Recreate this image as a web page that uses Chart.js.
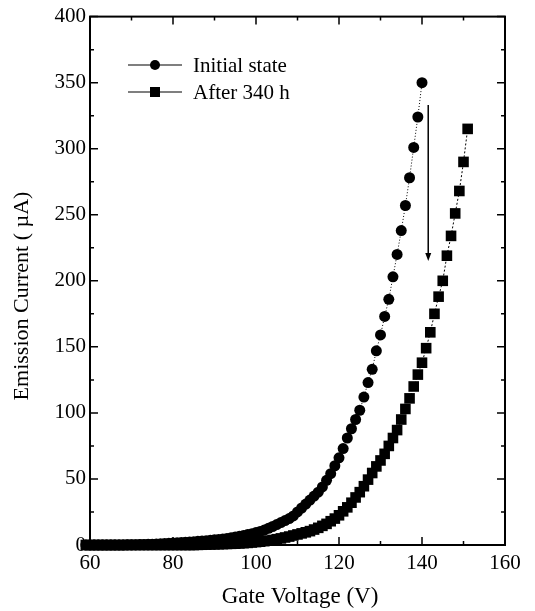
<!DOCTYPE html>
<html>
<head>
<meta charset="utf-8">
<script src="https://cdn.jsdelivr.net/npm/chart.js@4.4.1/dist/chart.umd.min.js"></script>
<style>
  body { margin: 0; background: #fff; }
  #wrap { width: 535px; height: 611px; }
</style>
</head>
<body>
<div id="wrap"><canvas id="chart" width="535" height="611"></canvas></div>
<script>
// gate voltage (V) and emission current (uA)
const initialV = [58, 59, 60, 61, 62, 63, 64, 65, 66, 67, 68, 69, 70, 71, 72, 73, 74, 75, 76, 77, 78, 79,
  80, 81, 82, 83, 84, 85, 86, 87, 88, 89, 90, 91, 92, 93, 94, 95, 96, 97, 98, 99,
  100, 101, 102, 103, 104, 105, 106, 107, 108, 109, 110, 111, 112, 113, 114, 115, 116, 117, 118, 119,
  120, 121, 122, 123, 124, 125, 126, 127, 128, 129, 130, 131, 132, 133, 134, 135, 136, 137, 138, 139, 140];
const initialI = [0, 0, 0, 0, 0, 0, 0, 0, 0, 0, 0, 0.1, 0.1, 0.2, 0.3, 0.4, 0.5, 0.6, 0.8, 0.9, 1.1, 1.3,
  1.5, 1.7, 1.9, 2.1, 2.3, 2.5, 2.8, 3.0, 3.3, 3.6, 3.9, 4.2, 4.6, 5.0, 5.5, 6.0, 6.6, 7.2, 7.9, 8.6,
  9.4, 10.3, 11.3, 12.6, 14, 15.5, 17, 18.5, 20, 22, 25, 28, 31, 34, 37, 40, 44, 49, 54, 60,
  66, 73, 81, 88, 95, 102, 112, 123, 133, 147, 159, 173, 186, 203, 220, 238, 257, 278, 301, 324, 350];

const agedV = [58, 59, 60, 61, 62, 63, 64, 65, 66, 67, 68, 69, 70, 71, 72, 73, 74, 75, 76, 77, 78, 79,
  80, 81, 82, 83, 84, 85, 86, 87, 88, 89, 90, 91, 92, 93, 94, 95, 96, 97, 98, 99,
  100, 101, 102, 103, 104, 105, 106, 107, 108, 109, 110, 111, 112, 113, 114, 115, 116, 117, 118, 119,
  120, 121, 122, 123, 124, 125, 126, 127, 128, 129, 130, 131, 132, 133, 134, 135, 136, 137, 138, 139,
  140, 141, 142, 143, 144, 145, 146, 147, 148, 149, 150, 151];
const agedI = [0, 0, 0, 0, 0, 0, 0, 0, 0, 0, 0, 0, 0, 0, 0, 0, 0, 0, 0, 0, 0, 0,
  0, 0, 0, 0, 0, 0, 0.1, 0.2, 0.3, 0.4, 0.5, 0.6, 0.7, 0.8, 0.9, 1.0, 1.2, 1.4, 1.6, 1.9,
  2.2, 2.5, 2.9, 3.3, 3.8, 4.4, 5.0, 5.7, 6.4, 7.2, 8.0, 8.8, 9.6, 10.5, 11.7, 13, 14.5, 16, 18, 20,
  22.5, 25.5, 28.5, 32, 36, 40, 44.5, 49.5, 54.5, 59.5, 64, 69, 75, 81, 87, 95, 103, 111, 120, 129,
  138, 149, 161, 175, 188, 200, 219, 234, 251, 268, 290, 315];

const seriesNames = ["Initial state", "After 340 h"];
const xTicks = [60, 80, 100, 120, 140, 160];
const yTicks = [0, 50, 100, 150, 200, 250, 300, 350, 400];
const xTitle = "Gate Voltage (V)";
const yTitle = "Emission Current ( \u00b5A)";

const serif = "'Liberation Serif', 'Times New Roman', serif";

function toPoints(xs, ys) {
  return xs.map((v, i) => ({ x: v, y: ys[i] }));
}

// box with inward ticks on all four sides, arrow and axis titles
const framePlugin = {
  id: "frame",
  afterDatasetsDraw(chart) {
    const { ctx, chartArea: a, scales } = chart;
    ctx.save();
    ctx.strokeStyle = "#000";
    ctx.fillStyle = "#000";
    ctx.lineWidth = 2;
    ctx.strokeRect(a.left, a.top, a.right - a.left, a.bottom - a.top);
    ctx.lineWidth = 1.5;
    ctx.beginPath();
    for (let v = 60; v <= 160; v += 10) {
      const px = scales.x.getPixelForValue(v);
      const len = v % 20 === 0 ? 8 : 4;
      ctx.moveTo(px, a.bottom); ctx.lineTo(px, a.bottom - len);
      ctx.moveTo(px, a.top); ctx.lineTo(px, a.top + len);
    }
    for (let v = 0; v <= 400; v += 25) {
      const py = scales.y.getPixelForValue(v);
      const len = v % 50 === 0 ? 8 : 4;
      ctx.moveTo(a.left, py); ctx.lineTo(a.left + len, py);
      ctx.moveTo(a.right, py); ctx.lineTo(a.right - len, py);
    }
    ctx.stroke();

    // arrow showing the shift
    const ax = scales.x.getPixelForValue(141.5);
    const y0 = scales.y.getPixelForValue(333);
    const y1 = scales.y.getPixelForValue(215);
    ctx.beginPath();
    ctx.moveTo(ax, y0);
    ctx.lineTo(ax, y1 - 6);
    ctx.stroke();
    ctx.beginPath();
    ctx.moveTo(ax - 3, y1 - 8);
    ctx.lineTo(ax + 3, y1 - 8);
    ctx.lineTo(ax, y1);
    ctx.closePath();
    ctx.fill();

    // titles
    ctx.textAlign = "center";
    ctx.textBaseline = "middle";
    ctx.font = "23px " + serif;
    ctx.fillText(xTitle, 300, 597);
    ctx.translate(22, 296);
    ctx.rotate(-Math.PI / 2);
    ctx.font = "22px " + serif;
    ctx.fillText(yTitle, 0, 0);
    ctx.restore();
  }
};

// legend drawn inside the plot, upper left
const legendPlugin = {
  id: "innerLegend",
  afterDraw(chart) {
    const ctx = chart.ctx;
    const rows = [65, 92];
    ctx.save();
    ctx.font = "21px " + serif;
    ctx.textBaseline = "middle";
    chart.data.datasets.forEach((ds, i) => {
      const y = rows[i];
      ctx.strokeStyle = "#000";
      ctx.lineWidth = 1.2;
      ctx.beginPath();
      ctx.moveTo(128, y);
      ctx.lineTo(182, y);
      ctx.stroke();
      ctx.fillStyle = "#000";
      if (ds.pointStyle === "rect") {
        ctx.fillRect(150, y - 5, 10, 10);
      } else {
        ctx.beginPath();
        ctx.arc(155, y, 5, 0, Math.PI * 2);
        ctx.fill();
      }
      ctx.fillText(ds.label, 193, y + 1);
    });
    ctx.restore();
  }
};

new Chart(document.getElementById("chart"), {
  type: "line",
  data: {
    datasets: [
      {
        label: seriesNames[0],
        data: toPoints(initialV, initialI),
        borderColor: "#000",
        backgroundColor: "#000",
        borderWidth: 1,
        borderDash: [1, 2],
        pointStyle: "circle",
        pointRadius: 5.5,
        pointBorderWidth: 0,
        clip: false
      },
      {
        label: seriesNames[1],
        data: toPoints(agedV, agedI),
        borderColor: "#000",
        backgroundColor: "#000",
        borderWidth: 1,
        borderDash: [2, 2],
        pointStyle: "rect",
        pointRadius: 7.5,
        pointBorderWidth: 0,
        clip: false
      }
    ]
  },
  options: {
    responsive: false,
    animation: false,
    layout: { padding: { left: 0, top: 13, right: 30, bottom: 0 } },
    plugins: { legend: { display: false }, tooltip: { enabled: false } },
    scales: {
      x: {
        type: "linear",
        min: 60,
        max: 160,
        grid: { display: false, drawTicks: false },
        border: { display: false },
        afterBuildTicks: (scale) => { scale.ticks = xTicks.map((v) => ({ value: v })); },
        afterFit: (scale) => { scale.height = 66; },
        ticks: { color: "#000", font: { family: serif, size: 21 }, padding: 6 }
      },
      y: {
        min: 0,
        max: 400,
        grid: { display: false, drawTicks: false },
        border: { display: false },
        afterBuildTicks: (scale) => { scale.ticks = yTicks.map((v) => ({ value: v })); },
        afterFit: (scale) => { scale.width = 90; },
        ticks: { color: "#000", font: { family: serif, size: 21 }, padding: 4 }
      }
    }
  },
  plugins: [framePlugin, legendPlugin]
});
</script>
</body>
</html>
